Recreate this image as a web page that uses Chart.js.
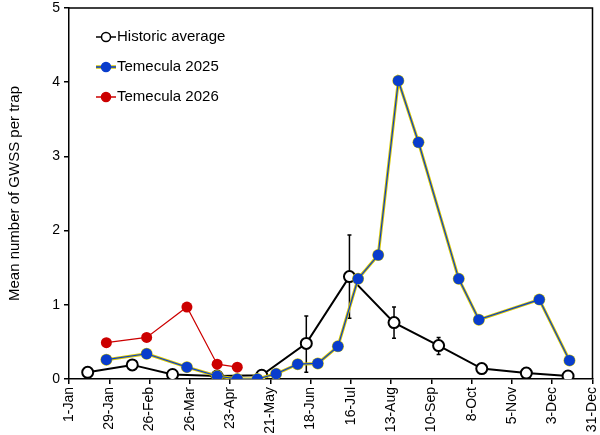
<!DOCTYPE html>
<html lang="en">
<head>
<meta charset="UTF-8">
<title>GWSS per trap</title>
<script src="https://cdn.jsdelivr.net/npm/chart.js"></script>
<style>
  html, body { margin: 0; padding: 0; background: #fff; overflow: hidden; }
  #gwssChart { display: block; }
</style>
</head>
<body>
<canvas id="gwssChart" width="600" height="435"></canvas>
<script>
// x = day of year (0 = 1-Jan), y = mean GWSS per trap
var tickLabels = ['1-Jan', '29-Jan', '26-Feb', '26-Mar', '23-Apr', '21-May', '18-Jun',
                  '16-Jul', '13-Aug', '10-Sep', '8-Oct', '5-Nov', '3-Dec', '31-Dec'];

var histDays = [13, 44, 72, 103, 134, 165, 195, 226, 257, 287, 318, 347];
var histMean = [0.09, 0.19, 0.06, 0.04, 0.05, 0.48, 1.38, 0.76, 0.45, 0.14, 0.08, 0.04];
var histErrHi = [null, null, null, null, null, 0.85, 1.94, 0.97, 0.56, null, null, null];
var histErrLo = [null, null, null, null, null, 0.09, 0.82, 0.55, 0.33, null, null, null];

var days2025 = [26, 54, 82, 103, 117, 131, 144, 159, 173, 187, 201, 215, 229, 243, 271, 285, 327, 348];
var vals2025 = [0.26, 0.34, 0.16, 0.04, 0.0, 0.0, 0.07, 0.2, 0.21, 0.44, 1.35, 1.67, 4.02, 3.19, 1.35, 0.8, 1.07, 0.25];

var days2026 = [26, 54, 82, 103, 117];
var vals2026 = [0.49, 0.56, 0.97, 0.2, 0.16];

function pts(xs, ys) {
    return xs.map(function(x, i) { return { x: x, y: ys[i] }; });
}

var BLUE = '#0a3dcc';
var YELLOW = '#d8c800';
var RED = '#cc0000';

// error bars for the historic average, drawn under the markers
var errorBars = {
    id: 'errorBars',
    beforeDatasetsDraw: function(chart) {
        var ctx = chart.ctx, xs = chart.scales.x, ys = chart.scales.y;
        ctx.save();
        ctx.strokeStyle = '#000';
        ctx.lineWidth = 1.5;
        histDays.forEach(function(d, i) {
            if (histErrHi[i] == null) return;
            var px = xs.getPixelForValue(d);
            var top = ys.getPixelForValue(histErrHi[i]);
            var bot = ys.getPixelForValue(histErrLo[i]);
            ctx.beginPath();
            ctx.moveTo(px, top); ctx.lineTo(px, bot);
            ctx.moveTo(px - 2, top); ctx.lineTo(px + 2, top);
            ctx.moveTo(px - 2, bot); ctx.lineTo(px + 2, bot);
            ctx.stroke();
        });
        ctx.restore();
    }
};

// box around plot + legend with line-and-marker samples
var frameAndLegend = {
    id: 'frameAndLegend',
    afterDraw: function(chart) {
        var ctx = chart.ctx, a = chart.chartArea;
        ctx.save();
        ctx.strokeStyle = '#000';
        ctx.lineWidth = 1.5;
        ctx.beginPath();
        ctx.moveTo(a.left, a.top); ctx.lineTo(a.right, a.top); ctx.lineTo(a.right, a.bottom);
        ctx.stroke();

        var items = [
            { text: 'Historic average', line: '#000', fill: '#fff', stroke: '#000', edge: null },
            { text: 'Temecula 2025', line: BLUE, fill: BLUE, stroke: BLUE, edge: YELLOW },
            { text: 'Temecula 2026', line: RED, fill: RED, stroke: RED, edge: null }
        ];
        var x0 = a.left + 27, y0 = a.top + 29, gap = 30;
        ctx.font = '15px "Liberation Sans", Arial, sans-serif';
        ctx.textBaseline = 'middle';
        items.forEach(function(it, i) {
            var y = y0 + i * gap;
            if (it.edge) {
                ctx.strokeStyle = it.edge; ctx.lineWidth = 3.5;
                ctx.beginPath(); ctx.moveTo(x0, y); ctx.lineTo(x0 + 20, y); ctx.stroke();
            }
            ctx.strokeStyle = it.line; ctx.lineWidth = 1.5;
            ctx.beginPath(); ctx.moveTo(x0, y); ctx.lineTo(x0 + 20, y); ctx.stroke();
            ctx.beginPath(); ctx.arc(x0 + 10, y, 4.5, 0, Math.PI * 2);
            ctx.fillStyle = it.fill; ctx.fill();
            ctx.strokeStyle = it.stroke; ctx.lineWidth = 1.5; ctx.stroke();
            ctx.fillStyle = '#000';
            ctx.fillText(it.text, x0 + 21, y);
        });
        ctx.restore();
    }
};

var ctx = document.getElementById('gwssChart').getContext('2d');
new Chart(ctx, {
    type: 'line',
    data: {
        datasets: [
            {
                label: 'Temecula 2026',
                data: pts(days2026, vals2026),
                borderColor: RED, backgroundColor: RED,
                borderWidth: 1.2, pointRadius: 5.5, pointBorderWidth: 0,
                order: 0
            },
            {
                label: 'Temecula 2025',
                data: pts(days2025, vals2025),
                borderColor: BLUE, backgroundColor: BLUE,
                borderWidth: 1.2, pointRadius: 5.5, pointBorderWidth: 0,
                order: 1
            },
            {
                label: '2025 edge',
                data: pts(days2025, vals2025),
                borderColor: YELLOW, backgroundColor: YELLOW,
                borderWidth: 3, pointRadius: 6, pointBorderWidth: 0,
                order: 2
            },
            {
                label: 'Historic average',
                data: pts(histDays, histMean),
                borderColor: '#000', backgroundColor: '#fff',
                borderWidth: 2, pointRadius: 5.5, pointBorderWidth: 2,
                pointBorderColor: '#000', pointBackgroundColor: '#fff',
                order: 3
            }
        ]
    },
    options: {
        responsive: false,
        animation: false,
        devicePixelRatio: 1,
        layout: { padding: { top: 8, right: 7, left: 0, bottom: 0 } },
        plugins: { legend: { display: false }, tooltip: { enabled: false } },
        scales: {
            x: {
                type: 'linear',
                min: 0, max: 364,
                grid: { drawOnChartArea: false, color: '#000', tickLength: 5, lineWidth: 1.5 },
                border: { color: '#000', width: 1.5 },
                ticks: {
                    stepSize: 28,
                    autoSkip: false,
                    maxRotation: 90, minRotation: 90,
                    color: '#000',
                    padding: 3,
                    font: { family: '"Liberation Sans", Arial, sans-serif', size: 14 },
                    callback: function(v) { return tickLabels[Math.round(v / 28)]; }
                },
                afterFit: function(scale) {
                    scale.height = 56;
                    scale.paddingLeft = 0;
                    scale.paddingRight = 0;
                }
            },
            y: {
                min: 0, max: 5,
                grid: { drawOnChartArea: false, color: '#000', tickLength: 5, lineWidth: 1.5 },
                border: { color: '#000', width: 1.5 },
                ticks: {
                    stepSize: 1,
                    color: '#000',
                    padding: 4,
                    font: { family: '"Liberation Sans", Arial, sans-serif', size: 14 }
                },
                title: {
                    display: true,
                    text: 'Mean number of GWSS per trap',
                    color: '#000',
                    font: { family: '"Liberation Sans", Arial, sans-serif', size: 15 },
                    padding: { top: 6, bottom: 2 }
                },
                afterFit: function(scale) {
                    scale.width = 69;
                    scale.paddingTop = 0;
                    scale.paddingBottom = 0;
                }
            }
        }
    },
    plugins: [errorBars, frameAndLegend]
});
</script>
</body>
</html>
